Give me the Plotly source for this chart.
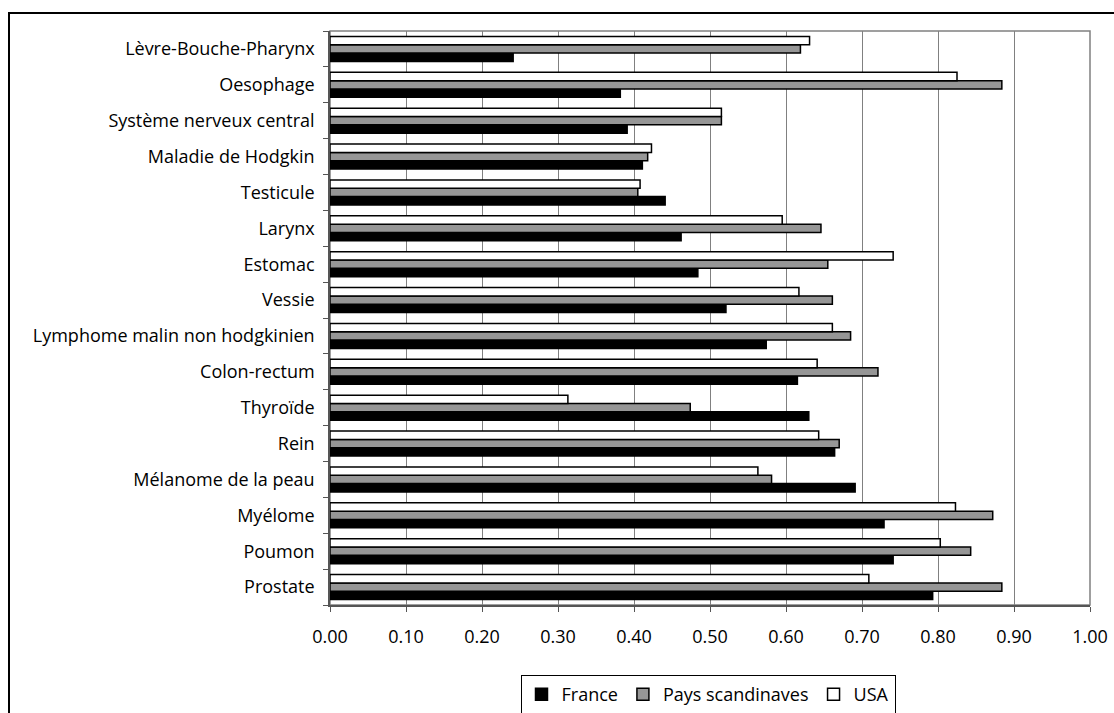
import plotly.graph_objects as go

categories = ["Lèvre-Bouche-Pharynx", "Oesophage", "Système nerveux central", "Maladie de Hodgkin",
              "Testicule", "Larynx", "Estomac", "Vessie", "Lymphome malin non hodgkinien",
              "Colon-rectum", "Thyroïde", "Rein", "Mélanome de la peau", "Myélome", "Poumon", "Prostate"]
france = [0.241, 0.382, 0.391, 0.411, 0.441, 0.462, 0.484, 0.521, 0.574, 0.615, 0.630, 0.664, 0.691, 0.729, 0.741, 0.793]
scand = [0.619, 0.884, 0.515, 0.418, 0.405, 0.646, 0.655, 0.661, 0.685, 0.721, 0.474, 0.670, 0.581, 0.872, 0.843, 0.884]
usa = [0.631, 0.825, 0.515, 0.423, 0.408, 0.595, 0.741, 0.617, 0.661, 0.641, 0.313, 0.643, 0.563, 0.823, 0.803, 0.709]
series_names = ["France", "Pays scandinaves", "USA"]
tick_vals = [0.0, 0.1, 0.2, 0.3, 0.4, 0.5, 0.6, 0.7, 0.8, 0.9, 1.0]

cats_rev = categories[::-1]
fills = ["#000000", "#969696", "#ffffff"]

fig = go.Figure()
for name, vals, col in zip(series_names, [france, scand, usa], fills):
    fig.add_trace(go.Bar(
        y=cats_rev, x=vals[::-1], name=name, orientation="h",
        marker=dict(color=col, line=dict(color="#000000", width=1.5)),
    ))

W, H = 1114, 713
L, R, T, B = 330, W - 1090, 31, H - 605
pw, ph = W - L - R, H - T - B

def px(x):
    return (x - L) / pw

def py(y):
    return (H - B - y) / ph

FONT = "Open Sans"
FS = 18

fig.update_layout(
    width=W, height=H,
    margin=dict(l=L, r=R, t=T, b=B, autoexpand=False),
    paper_bgcolor="white", plot_bgcolor="white",
    barmode="group", bargap=0.30, bargroupgap=0.0,
    font=dict(family=FONT, size=FS, color="#000000"),
    showlegend=True,
    legend=dict(orientation="h", xref="container", yref="container",
                x=708 / W, xanchor="center",
                y=(H - 675) / H, yanchor="top",
                bordercolor="#000000", borderwidth=1, font=dict(size=FS),
                itemwidth=30, traceorder="normal"),
    xaxis=dict(range=[0, 1.0], tickvals=tick_vals, tickformat=".2f",
               showgrid=True, gridcolor="#808080", gridwidth=1,
               showline=True, linecolor="#555555", linewidth=1.5,
               ticks="outside", ticklen=5, tickcolor="#555555",
               ticklabelstandoff=10, ticklabeloverflow="allow",
               zeroline=False, fixedrange=True),
    yaxis=dict(categoryorder="array", categoryarray=cats_rev,
               showline=True, linecolor="#555555", linewidth=1.5,
               ticks="outside", ticklen=5, tickcolor="#555555", tickson="boundaries",
               ticklabelstandoff=10, showgrid=False, fixedrange=True),
    shapes=[
        dict(type="rect", xref="paper", yref="paper", x0=0, x1=1, y0=0, y1=1,
             line=dict(color="#808080", width=1.5), layer="below"),
        dict(type="rect", xref="paper", yref="paper",
             x0=px(9), x1=px(1130), y0=py(740), y1=py(13),
             line=dict(color="#000000", width=2)),
    ],
)

# remove the browser's default 8px body margin so the figure fills the window exactly
fig.write_html("out.html",
               config={"displayModeBar": False},
               post_script="document.body.style.margin='0';document.body.style.overflow='hidden';")
